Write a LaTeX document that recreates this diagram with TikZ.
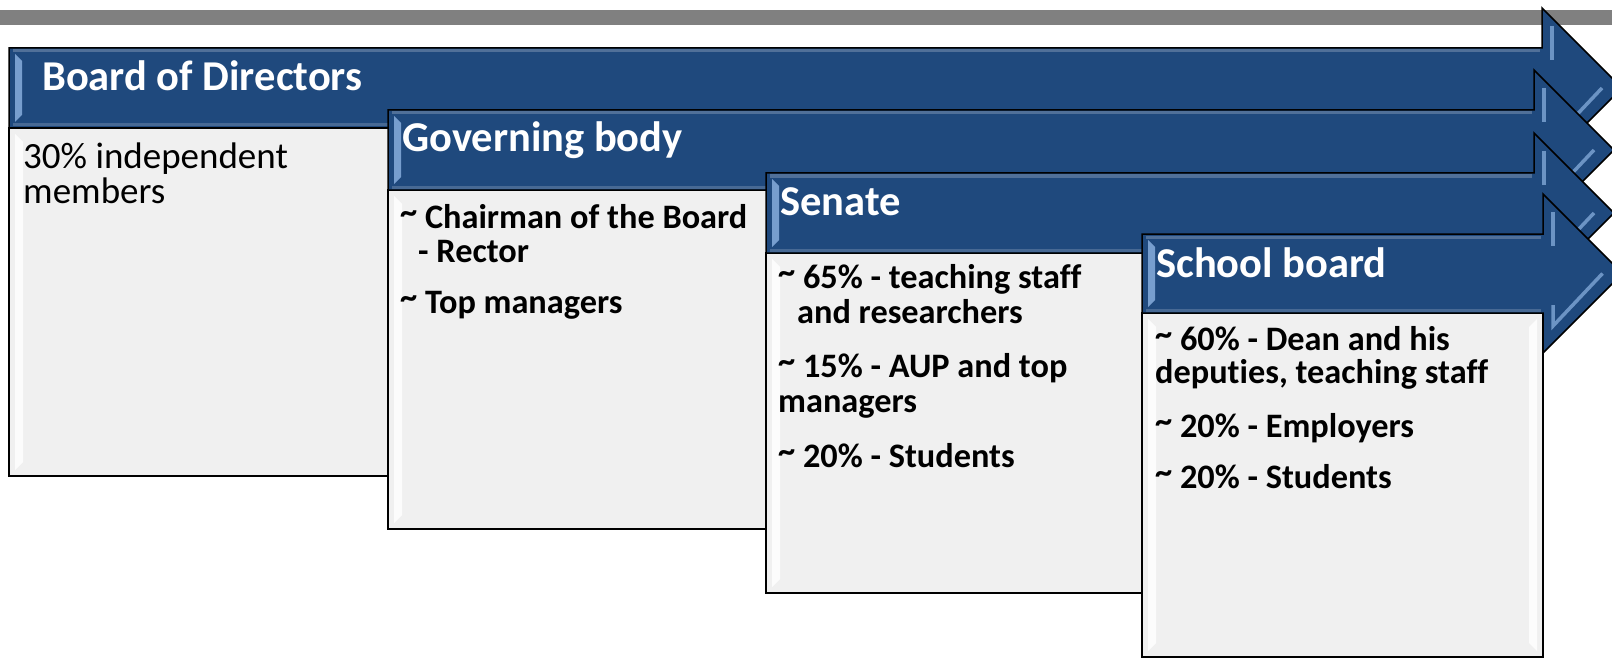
\documentclass[tikz,border=0pt]{standalone}
\usepackage{fontspec}
\setmainfont[Ligatures={NoCommon}]{Carlito}
\definecolor{hdr}{HTML}{1F497D}
\definecolor{bodyfill}{HTML}{F0F0F0}
\definecolor{bev}{HTML}{8EB4E3}
\definecolor{barg}{HTML}{808080}
\newcommand{\tl}{\raisebox{5pt}{\textasciitilde}}
\newcommand{\BodyBox}[4]{%
  \draw[bodybox] (#1,#2) rectangle (#3,#4);
  \fill[white,opacity=0.85] (#1+6,#2+6) -- (#1+14,#2+14) -- (#1+14,#4-14) -- (#1+6,#4-6) -- cycle;
  \fill[white,opacity=0.85] (#3-6,#2+6) -- (#3-14,#2+14) -- (#3-14,#4-14) -- (#3-6,#4-6) -- cycle;
}
\newcommand{\ArrowHdr}[4]{%
  \pgfmathsetmacro\amid{(#2+#3)/2}
  \pgfmathsetmacro\ahT{#2-40}
  \pgfmathsetmacro\ahB{#3+40}
  \pgfmathsetmacro\atip{#4+(#3+40-(#2+#3)/2)}
  \draw[hdrshape] (#1,#2) -- (#4,#2) -- (#4,\ahT) -- (\atip,\amid) -- (#4,\ahB) -- (#4,#3) -- (#1,#3) -- cycle;
  \fill[bev, opacity=.8] (#1+6,#2+6) -- (#1+13,#2+13) -- (#1+13,#3-13) -- (#1+6,#3-6) -- cycle;
  \draw[white, opacity=.22, line width=3pt] (#1+4,#2+3) -- (#4-2,#2+3);
  \draw[white, opacity=.18, line width=3pt] (#1+4,#3-3) -- (#4-2,#3-3);
  \draw[bev, line width=3.5pt, opacity=.7] (#4+10,\ahT+18) -- (#4+10,#2+12);
  \draw[bev, line width=3.5pt, opacity=.7] (#4+10,#3-8) -- (#4+10,\ahB-27) -- (\atip-20,\amid);
}
\begin{document}
\begin{tikzpicture}[x=1pt,y=-1pt,
  outl/.style={draw=black, line width=1.5pt, line join=miter},
  hdrshape/.style={outl, fill=hdr},
  bodybox/.style={outl, fill=bodyfill},
  hdrtext/.style={anchor=base west, inner sep=0pt, text=white, font=\fontsize{42.5}{42.5}\selectfont\bfseries},
  itemtext/.style={anchor=base west, inner sep=0pt, text=black, font=\fontsize{34.3}{34.3}\selectfont\bfseries},
  plaintext/.style={anchor=base west, inner sep=0pt, text=black, font=\fontsize{37}{37}\selectfont}]
\useasboundingbox (0,0) rectangle (1612,658);
\clip (0,0) rectangle (1612,658);
\fill[white] (0,0) rectangle (1612,658);
\fill[barg] (0,10) rectangle (1612,25);

% Board of Directors
\BodyBox{9}{128}{410}{476}
\ArrowHdr{9}{48}{128}{1542}
\node[hdrtext] (t1) at (42,91) {Board of Directors};
\node[plaintext] (b1a) at (23,168) {30\% independent};
\node[plaintext] (b1b) at (23,204) {members};

% Governing body
\BodyBox{388}{190}{790}{529}
\ArrowHdr{388}{110}{190}{1534}
\node[hdrtext] (t2) at (402,152) {Governing body};
\node[itemtext] (b2a) at (400,228) {\tl{} Chairman of the Board};
\node[itemtext] (b2b) at (418,262) {- Rector};
\node[itemtext] (b2c) at (400,313) {\tl{} Top managers};

% Senate
\BodyBox{766}{253}{1167}{593}
\ArrowHdr{766}{173}{253}{1534}
\node[hdrtext] (t3) at (780,215) {Senate};
\node[itemtext] (b3a) at (778,288) {\tl{} 65\% - teaching staff};
\node[itemtext] (b3b) at (797,323) {and researchers};
\node[itemtext] (b3c) at (778,377) {\tl{} 15\% - AUP and top};
\node[itemtext] (b3d) at (778,412) {managers};
\node[itemtext] (b3e) at (778,467) {\tl{} 20\% - Students};

% School board
\BodyBox{1142}{313}{1543}{657}
\ArrowHdr{1142}{234}{313}{1543}
\node[hdrtext] (t4) at (1156,277) {School board};
\node[itemtext] (b4a) at (1155,350) {\tl{} 60\% - Dean and his};
\node[itemtext] (b4b) at (1155,383) {deputies, teaching staff};
\node[itemtext] (b4c) at (1155,437) {\tl{} 20\% - Employers};
\node[itemtext] (b4d) at (1155,488) {\tl{} 20\% - Students};
\end{tikzpicture}
\end{document}
